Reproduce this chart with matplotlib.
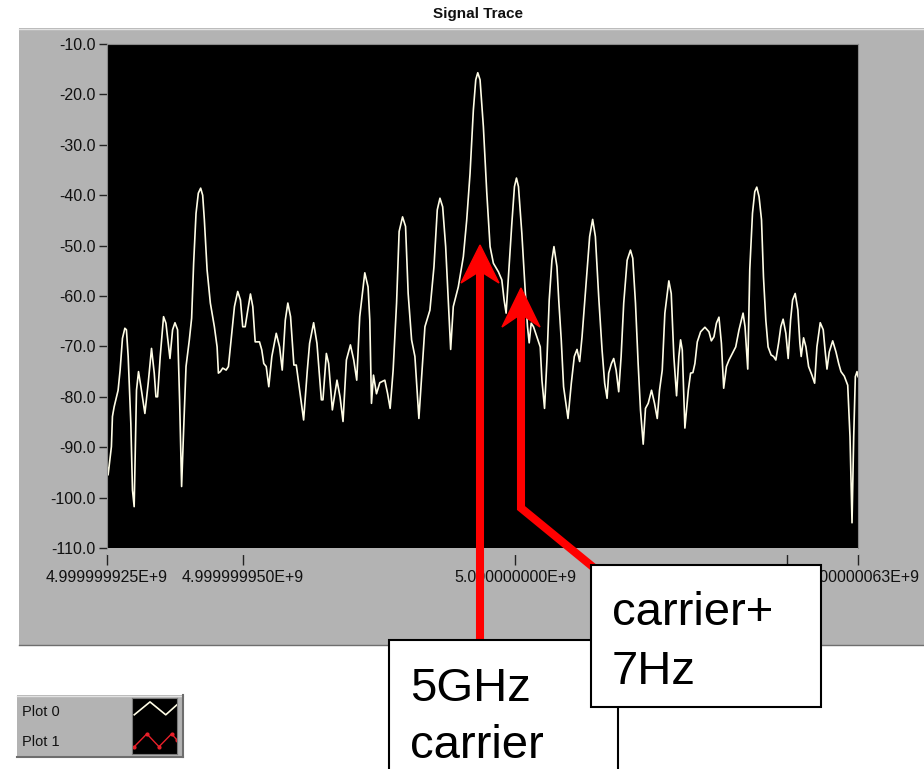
import numpy as np
import matplotlib
matplotlib.use("Agg")
import matplotlib.pyplot as plt
from matplotlib.patches import Rectangle, Polygon

# spectrum trace, frequency given as offset (Hz) from 5 GHz
freq_offset_hz = [
    -75.0, -74.8, -74.19, -74.0, -73.69, -72.96, -72.59, -72.16, -71.72, -71.43,
    -71.11, -70.62, -70.32, -70.01, -69.58, -69.21, -68.77, -68.04, -67.43, -66.82,
    -66.32, -66.01, -65.71, -65.22, -64.61, -64.17, -63.43, -62.95, -62.51, -62.03,
    -61.66, -61.29, -60.92, -60.48, -59.87, -59.45, -59.08, -58.64, -58.22, -57.79,
    -57.42, -57.11, -56.61, -56.01, -55.27, -54.77, -54.53, -54.16, -53.74, -53.11,
    -52.69, -52.19, -51.58, -50.98, -50.48, -50.06, -49.61, -49.13, -48.64, -48.21,
    -47.77, -46.98, -46.56, -46.19, -45.74, -45.27, -44.71, -43.90, -43.29, -42.80,
    -42.24, -41.77, -41.27, -40.66, -40.22, -39.61, -38.87, -38.19, -37.77, -37.03,
    -36.42, -35.61, -35.32, -34.69, -34.27, -33.59, -32.74, -32.18, -31.63, -31.01,
    -30.27, -29.66, -29.11, -28.56, -27.63, -27.03, -26.71, -26.40, -26.03, -25.48,
    -24.87, -23.95, -23.45, -22.97, -22.42, -21.79, -21.32, -20.69, -20.14, -19.66,
    -19.03, -18.42, -17.69, -17.19, -16.58, -15.66, -14.92, -14.31, -13.82, -13.32,
    -12.77, -12.29, -11.85, -11.37, -10.45, -9.52, -8.90, -8.29, -7.68, -7.24,
    -6.87, -6.45, -5.84, -5.21, -4.61, -4.00, -3.08, -2.45, -2.03, -1.66,
    -1.23, -0.61, -0.13, 0.24, 0.61, 1.23, 1.84, 2.27, 2.58, 2.95,
    3.37, 4.00, 4.61, 4.92, 5.40, 5.84, 6.26, 6.76, 7.13, 7.68,
    8.01, 8.47, 8.90, 9.71, 10.32, 10.87, 11.37, 11.85, 12.29, 13.03,
    13.69, 14.24, 14.74, 15.35, 15.97, 16.45, 16.89, 17.19, 17.69, 18.11,
    18.55, 19.03, 19.47, 19.95, 20.58, 21.19, 21.61, 22.11, 22.60, 23.03,
    23.53, 23.95, 24.45, 25.06, 25.61, 26.11, 26.53, 27.03, 27.51, 28.24,
    28.68, 29.16, 29.66, 30.08, 30.40, 30.71, 31.19, 31.82, 32.24, 32.66,
    33.03, 33.47, 34.08, 34.87, 35.61, 36.05, 36.53, 36.98, 37.45, 37.90,
    38.32, 38.82, 39.30, 39.92, 40.53, 41.14, 41.88, 42.24, 42.74, 43.11,
    43.61, 44.03, 44.40, 44.82, 45.27, 45.63, 46.06, 46.48, 47.03, 47.48,
    47.90, 48.40, 48.82, 49.24, 49.74, 50.17, 50.61, 50.98, 51.46, 51.95,
    52.32, 52.56, 53.00, 53.43, 53.92, 54.53, 55.03, 55.45, 56.06, 56.61,
    56.98, 57.30, 57.72, 58.35, 58.95, 59.45, 59.87, 60.48, 61.11, 61.53,
    61.90, 62.21, 62.51, 62.82, 63.0,
]
level_db = [
    -93.5, -95.5, -89.9, -83.9, -82.0, -78.7, -74.7, -68.4, -66.4, -66.7,
    -72.0, -85.3, -98.5, -101.8, -78.7, -75.0, -78.0, -83.3, -77.3, -70.4,
    -75.3, -80.0, -80.0, -72.0, -64.1, -65.4, -72.4, -66.7, -65.3, -66.7,
    -80.6, -97.8, -86.6, -74.0, -68.7, -64.4, -53.5, -43.6, -39.6, -38.6,
    -40.0, -44.9, -54.8, -61.4, -66.1, -70.1, -75.3, -75.0, -74.3, -74.7,
    -74.0, -68.7, -62.1, -59.1, -60.8, -66.1, -66.1, -62.8, -59.6, -62.1,
    -69.1, -69.1, -70.7, -73.4, -74.0, -78.0, -72.0, -67.4, -70.1, -74.7,
    -64.8, -61.4, -64.1, -73.7, -73.7, -78.7, -84.6, -74.7, -69.4, -65.3,
    -69.4, -80.6, -80.6, -71.4, -73.4, -82.6, -76.7, -80.0, -84.9, -72.7,
    -69.7, -72.7, -76.7, -64.1, -55.4, -58.2, -64.8, -81.3, -75.7, -79.4,
    -77.2, -76.7, -79.3, -82.3, -74.7, -61.4, -47.2, -44.3, -46.2, -59.5,
    -68.7, -72.0, -84.3, -76.0, -66.1, -62.8, -54.2, -42.9, -40.6, -42.3,
    -50.2, -60.8, -70.6, -62.1, -58.2, -52.2, -44.9, -35.7, -23.1, -17.1,
    -15.7, -17.1, -26.4, -39.6, -50.2, -53.5, -55.2, -56.8, -60.8, -63.4,
    -56.2, -45.6, -38.3, -36.6, -38.3, -47.6, -58.8, -66.1, -69.3, -65.4,
    -66.1, -68.1, -70.1, -76.7, -82.3, -72.7, -60.8, -52.9, -50.2, -54.2,
    -60.8, -68.7, -78.0, -84.3, -77.3, -72.0, -70.6, -73.0, -68.1, -57.5,
    -48.2, -44.8, -48.2, -60.1, -70.7, -77.3, -80.3, -75.3, -73.4, -72.4,
    -74.7, -79.0, -72.0, -61.4, -52.9, -50.9, -52.5, -61.4, -73.4, -82.6,
    -89.4, -82.3, -81.3, -78.7, -81.3, -84.3, -78.7, -74.7, -63.4, -57.0,
    -59.5, -72.0, -79.8, -72.0, -68.7, -70.7, -86.2, -78.7, -75.3, -75.2,
    -73.4, -69.1, -67.1, -66.2, -67.1, -68.9, -68.1, -65.4, -64.2, -69.4,
    -78.3, -74.0, -72.7, -71.4, -70.1, -66.7, -63.4, -66.1, -74.5, -54.8,
    -43.6, -39.3, -38.4, -40.3, -44.9, -56.2, -64.8, -70.1, -71.7, -72.0,
    -72.7, -69.4, -66.1, -64.6, -67.4, -72.4, -64.8, -60.8, -59.5, -62.8,
    -69.4, -72.0, -68.3, -70.1, -74.0, -75.7, -77.3, -70.1, -65.3, -66.7,
    -71.1, -74.5, -71.1, -68.9, -71.1, -73.4, -75.0, -75.9, -77.7, -87.9,
    -105.0, -87.9, -76.0, -75.0, -76.0,
]
assert len(freq_offset_hz) == len(level_db), (len(freq_offset_hz), len(level_db))

carrier_hz = 5e9
x_ticks = [-75, -50, 0, 50, 63]
x_tick_shown = [True, True, True, False, True]   # 50 Hz label is dropped (crowded)
y_ticks = [-10, -20, -30, -40, -50, -60, -70, -80, -90, -100, -110]
legend_names = ["Plot 0", "Plot 1"]

PANEL = "#b3b3b3"
W, H = 924, 769

plt.rcParams["font.family"] = ["Liberation Sans", "DejaVu Sans"]

fig = plt.figure(figsize=(W / 100, H / 100), dpi=100)
fig.patch.set_facecolor("white")


def px_box(l, t, r, b):
    return [l / W, 1 - b / H, (r - l) / W, (b - t) / H]


# background panel, title, legend frame (pixel coords)
bg = fig.add_axes([0, 0, 1, 1])
bg.set_xlim(0, W)
bg.set_ylim(H, 0)
bg.axis("off")
bg.set_zorder(0)
bg.add_patch(Rectangle((19, 28), W - 19, 617, facecolor=PANEL, edgecolor="none"))
bg.plot([19, W], [28.5, 28.5], color="#e2e2e2", lw=1)
bg.plot([19, W], [644.5, 644.5], color="#6e6e6e", lw=1)
bg.text(478, 14, "Signal Trace", ha="center", va="center",
        fontsize=11, fontweight="bold", color="#111111")

bg.add_patch(Rectangle((17, 695), 166, 62, facecolor=PANEL, edgecolor="none"))
bg.plot([17, 183], [695.5, 695.5], color="#e2e2e2", lw=1)
bg.plot([17, 183], [756.5, 756.5], color="#6e6e6e", lw=1.5)
bg.plot([182.5, 182.5], [695, 757], color="#6e6e6e", lw=1.5)
for name, yy in zip(legend_names, [712, 742]):
    bg.text(22, yy, name, ha="left", va="center", fontsize=10.5, color="#111111")

# legend swatch
sw = fig.add_axes(px_box(132, 698, 177, 754))
sw.set_facecolor("black")
sw.set_xlim(0, 1)
sw.set_ylim(0, 1)
sw.set_xticks([])
sw.set_yticks([])
for s in sw.spines.values():
    s.set_color("#7a7a7a")
sw.plot([0.05, 0.4, 0.75, 1.0], [0.7, 0.93, 0.7, 0.88], color="#fffde6", lw=1.2)
sw.plot([0.05, 0.33, 0.6, 0.88, 1.0], [0.13, 0.36, 0.13, 0.36, 0.25],
        color="#e8202a", lw=1, marker="o", ms=2)

# main plot
ax = fig.add_axes(px_box(107, 44, 858, 548))
ax.set_zorder(1)
ax.set_facecolor("black")
ax.plot(freq_offset_hz, level_db, color="#fffde6", lw=1.2)
ax.set_xlim(-75, 63)
ax.set_ylim(-110, -10)
ax.set_yticks(y_ticks)
ax.set_yticklabels([f"{v:.1f}" for v in y_ticks])
ax.set_xticks(x_ticks)
ax.set_xticklabels([f"{(carrier_hz + v) / 1e9:.9f}E+9" if show else ""
                    for v, show in zip(x_ticks, x_tick_shown)])
for s in ax.spines.values():
    s.set_color("#8a8a8a")
ax.spines["bottom"].set_position(("outward", 4))
ax.spines["bottom"].set_color(PANEL)
ax.tick_params(axis="y", length=6, width=1, color="#222222", pad=2,
               labelsize=11.5, labelcolor="#111111")
ax.tick_params(axis="x", length=8, width=1, color="#222222", pad=4,
               labelsize=11.5, labelcolor="#111111")

# red arrows and call-out boxes on top
ov = fig.add_axes([0, 0, 1, 1])
ov.set_xlim(0, W)
ov.set_ylim(H, 0)
ov.axis("off")
ov.set_zorder(2)

ov.plot([480, 480], [642, 268], color="red", lw=5.8, solid_capstyle="butt", zorder=2)
ov.add_patch(Polygon([(480, 245), (499, 283), (480, 271), (461, 283)],
                     closed=True, color="red", zorder=2))
ov.plot([593, 521, 521], [567, 508, 312], color="red", lw=5.8,
        solid_capstyle="butt", solid_joinstyle="miter", zorder=2)
ov.add_patch(Polygon([(521, 288), (540, 327), (521, 314), (502, 327)],
                     closed=True, color="red", zorder=2))

ov.add_patch(Rectangle((389, 640), 229, 160, facecolor="white",
                       edgecolor="black", lw=1.5, zorder=3))
ov.add_patch(Rectangle((591, 565), 230, 142, facecolor="white",
                       edgecolor="black", lw=1.5, zorder=4))
ov.text(410, 701, "5GHz", fontsize=34, ha="left", va="baseline", zorder=5)
ov.text(410, 758, "carrier", fontsize=34, ha="left", va="baseline", zorder=5)
ov.text(612, 625, "carrier+", fontsize=34, ha="left", va="baseline", zorder=5)
ov.text(612, 684, "7Hz", fontsize=34, ha="left", va="baseline", zorder=5)

fig.savefig("out.png", dpi=100, facecolor=fig.get_facecolor())
